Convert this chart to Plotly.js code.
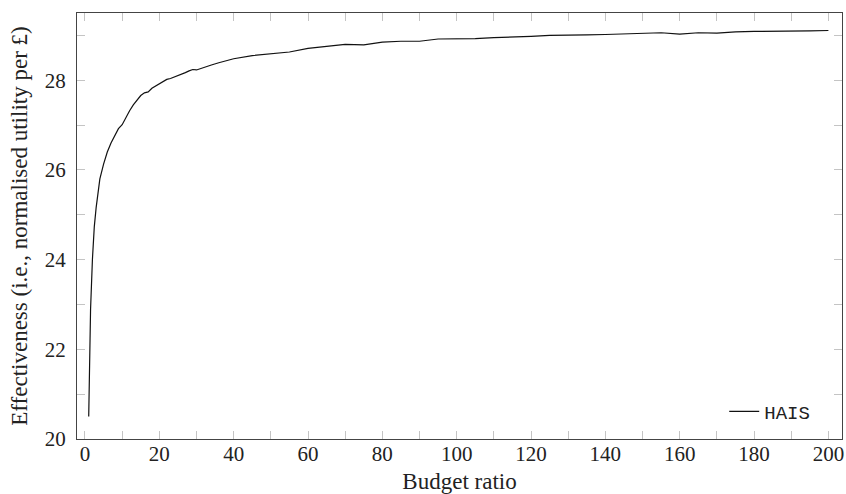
<!DOCTYPE html>
<html>
<head>
<meta charset="utf-8">
<script src="https://cdn.plot.ly/plotly-3.0.1.min.js"></script>
<style>
  html, body { margin: 0; padding: 0; background: #fff; }
  #chart { width: 846px; height: 494px; }
</style>
</head>
<body>
<div id="chart"></div>
<script>
// Effectiveness of HAIS as the budget ratio grows
const budgetRatio = [
  1, 1.25, 1.5, 2, 2.5, 3, 3.5, 4, 5, 6, 7, 8, 9, 10,
  11, 12, 13, 14, 15, 16, 17, 18, 19, 20, 21, 22, 23, 24, 25, 26, 27, 28, 29, 30,
  32, 34, 36, 38, 40, 45, 50, 55, 60, 65, 70, 75, 80, 85, 90, 95, 100,
  105, 110, 115, 120, 125, 130, 135, 140, 145, 150, 155, 160, 165, 170, 175,
  180, 185, 190, 195, 200
];
const haisEffectiveness = [
  20.50, 21.99, 22.90, 24.01, 24.73, 25.16, 25.50, 25.80, 26.13, 26.40, 26.60, 26.78, 26.92, 27.01,
  27.17, 27.32, 27.45, 27.56, 27.66, 27.72, 27.74, 27.82, 27.87, 27.92, 27.97, 28.02, 28.04, 28.07, 28.11, 28.14, 28.17, 28.21, 28.24, 28.23,
  28.29, 28.34, 28.39, 28.44, 28.48, 28.55, 28.59, 28.63, 28.71, 28.76, 28.80, 28.79, 28.85, 28.87, 28.87, 28.92, 28.92,
  28.93, 28.95, 28.96, 28.98, 29.00, 29.00, 29.01, 29.02, 29.03, 29.05, 29.06, 29.03, 29.06, 29.05, 29.08,
  29.09, 29.09, 29.09, 29.10, 29.11
];

// Ticks every 10 on x and every 1 on y; only every other one is labelled
const xTickVals = [0, 10, 20, 30, 40, 50, 60, 70, 80, 90, 100, 110, 120, 130, 140, 150, 160, 170, 180, 190, 200];
const xTickText = ['0', '', '20', '', '40', '', '60', '', '80', '', '100', '', '120', '', '140', '', '160', '', '180', '', '200'];
const yTickVals = [20, 21, 22, 23, 24, 25, 26, 27, 28, 29];
const yTickText = ['20', '', '22', '', '24', '', '26', '', '28', ''];

const serif = 'Liberation Serif, Times New Roman, serif';

const trace = {
  x: budgetRatio,
  y: haisEffectiveness,
  type: 'scatter',
  mode: 'lines',
  name: 'HAIS',
  line: { color: '#111', width: 1.2 }
};

const axisCommon = {
  showgrid: false,
  zeroline: false,
  showline: true,
  linecolor: '#444',
  linewidth: 1,
  mirror: 'allticks',
  ticks: 'inside',
  ticklen: 8,
  tickwidth: 1,
  tickcolor: '#c4c4c4',
  tickfont: { family: serif, size: 21, color: '#222' }
};

const layout = {
  width: 846,
  height: 494,
  margin: { l: 77, r: 4, t: 13, b: 55 },
  paper_bgcolor: '#fff',
  plot_bgcolor: '#fff',
  showlegend: true,
  legend: {
    x: 0.965, xanchor: 'right',
    y: 0.02, yanchor: 'bottom',
    bgcolor: 'rgba(255,255,255,0)',
    borderwidth: 0,
    font: { family: 'Liberation Mono, DejaVu Sans Mono, monospace', size: 19, color: '#222' }
  },
  xaxis: Object.assign({}, axisCommon, {
    range: [-2.15, 203.66],
    tickmode: 'array',
    tickvals: xTickVals,
    ticktext: xTickText,
    ticklabelstandoff: -4,
    title: { text: 'Budget ratio', font: { family: serif, size: 23, color: '#222' }, standoff: 11 }
  }),
  yaxis: Object.assign({}, axisCommon, {
    range: [20, 29.5],
    tickmode: 'array',
    tickvals: yTickVals,
    ticktext: yTickText,
    ticklabelstandoff: 6,
    title: { text: 'Effectiveness (i.e., normalised utility per £)', font: { family: serif, size: 23, color: '#222' }, standoff: 10 }
  })
};

Plotly.newPlot('chart', [trace], layout, { staticPlot: true, displayModeBar: false });
</script>
</body>
</html>
